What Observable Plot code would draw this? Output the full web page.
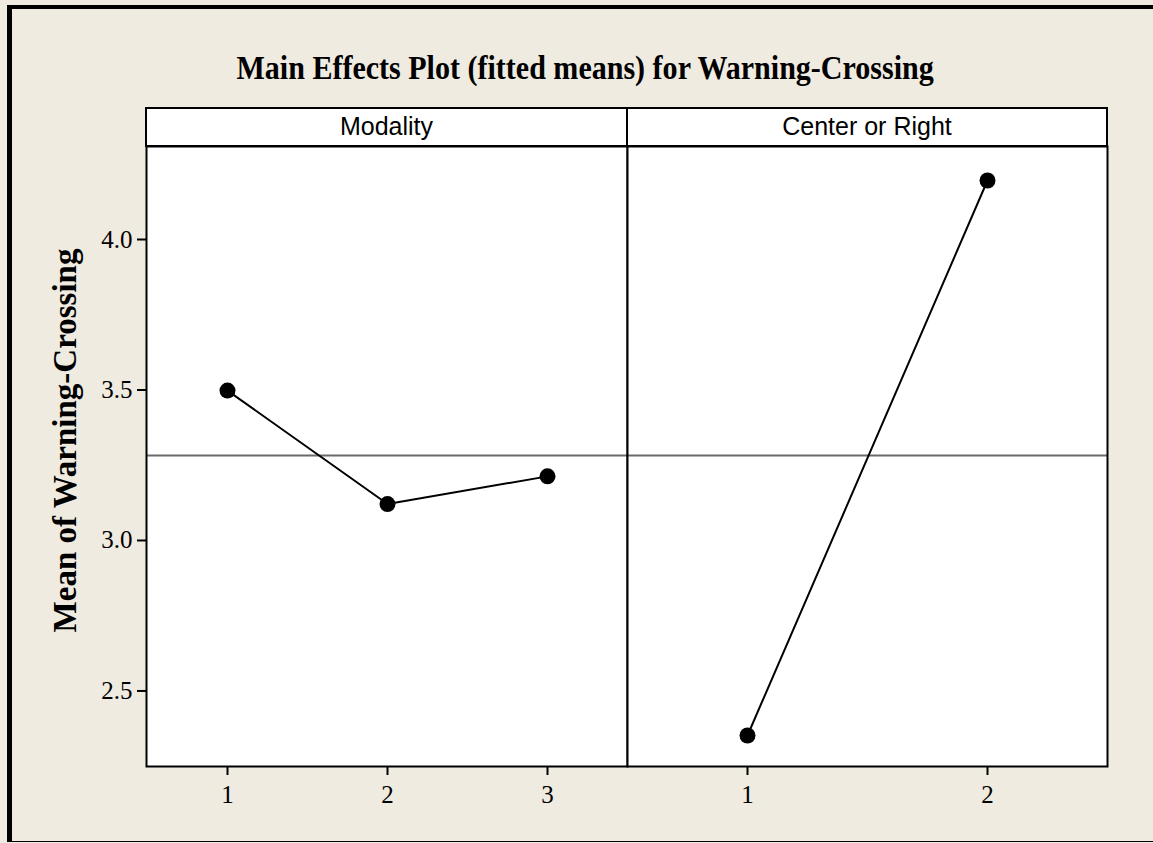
<!DOCTYPE html>
<html><head><meta charset="utf-8">
<script src="https://cdn.jsdelivr.net/npm/d3@7"></script>
<script src="https://cdn.jsdelivr.net/npm/@observablehq/plot@0.6"></script>
<style>
html,body{margin:0;padding:0;}
body{width:1153px;height:843px;background:#efebe1;position:relative;overflow:hidden;}
#frame{position:absolute;left:7px;top:5px;width:1146px;height:832px;border-top:4px solid #000;border-left:5px solid #000;border-bottom:1px solid #000;}
#title{position:absolute;left:0;width:1170px;top:52px;text-align:center;font:bold 33px "Liberation Serif",serif;line-height:33px;color:#000;}
#title span{display:inline-block;transform:scaleX(0.91);}
.strip{position:absolute;top:107px;height:40px;box-sizing:border-box;border:2px solid #000;background:#fff;text-align:center;font:25px "Liberation Sans",sans-serif;line-height:35px;color:#000;}
.chart{position:absolute;top:0;}
.chart svg{overflow:visible;}
</style>
</head><body>
<div id="frame"></div>
<div id="title"><span>Main Effects Plot (fitted means) for Warning-Crossing</span></div>
<div id="left" class="chart" style="left:0"></div>
<div id="right" class="chart" style="left:626px"></div>
<div class="strip" style="left:145px;width:483px">Modality</div>
<div class="strip" style="left:626px;width:482px">Center or Right</div>
<script>
const yLabel = "Mean of Warning-Crossing";
const modalityLevels = ["1", "2", "3"];
const modalityMeans = [3.498, 3.121, 3.213];
const sideLevels = ["1", "2"];
const sideMeans = [2.352, 4.196];
const grandMean = 3.282;
const yTicks = [2.5, 3.0, 3.5, 4.0];
const yDomain = [2.249, 4.309];

const modalityData = modalityLevels.map((level, i) => ({level, mean: modalityMeans[i]}));
const sideData = sideLevels.map((level, i) => ({level, mean: sideMeans[i]}));

const serif = "'Liberation Serif', 'Times New Roman', serif";

function panel(data, levels, opts) {
  return Plot.plot({
    width: opts.width,
    height: 843,
    marginLeft: opts.marginLeft,
    marginRight: opts.marginRight,
    marginTop: 146,
    marginBottom: 77,
    style: {background: "transparent", overflow: "visible"},
    x: {type: "point", domain: levels, padding: 0.5},
    y: {domain: yDomain, axis: null},
    marks: [
      Plot.frame({fill: "white"}),
      Plot.ruleY([grandMean], {stroke: "#6a6a6a", strokeWidth: 2}),
      Plot.line(data, {x: "level", y: "mean", stroke: "black", strokeWidth: 2}),
      Plot.dot(data, {x: "level", y: "mean", r: 8, fill: "black", stroke: "none"}),
      Plot.axisX({tickSize: 9, tickPadding: 10, strokeWidth: 2, fontSize: 25, fontFamily: serif, fill: "black", label: null}),
      opts.yaxis ? Plot.axisY(yTicks, {tickSize: 9, tickPadding: 5, strokeWidth: 2, fontSize: 25, fontFamily: serif, fill: "black", tickFormat: d3.format(".1f"), label: null}) : null,
      opts.yaxis ? Plot.text([yLabel], {text: d => d, frameAnchor: "left", textAnchor: "middle", rotate: -90, dx: -81, dy: -16, fontSize: 33, fontWeight: "bold", fontFamily: serif, fill: "black"}) : null,
      Plot.frame({stroke: "black", strokeWidth: 2})
    ]
  });
}

document.getElementById("left").append(panel(modalityData, modalityLevels, {width: 628, marginLeft: 146, marginRight: 1, yaxis: true}));
document.getElementById("right").append(panel(sideData, sideLevels, {width: 527, marginLeft: 1, marginRight: 46, yaxis: false}));
</script>
</body></html>
